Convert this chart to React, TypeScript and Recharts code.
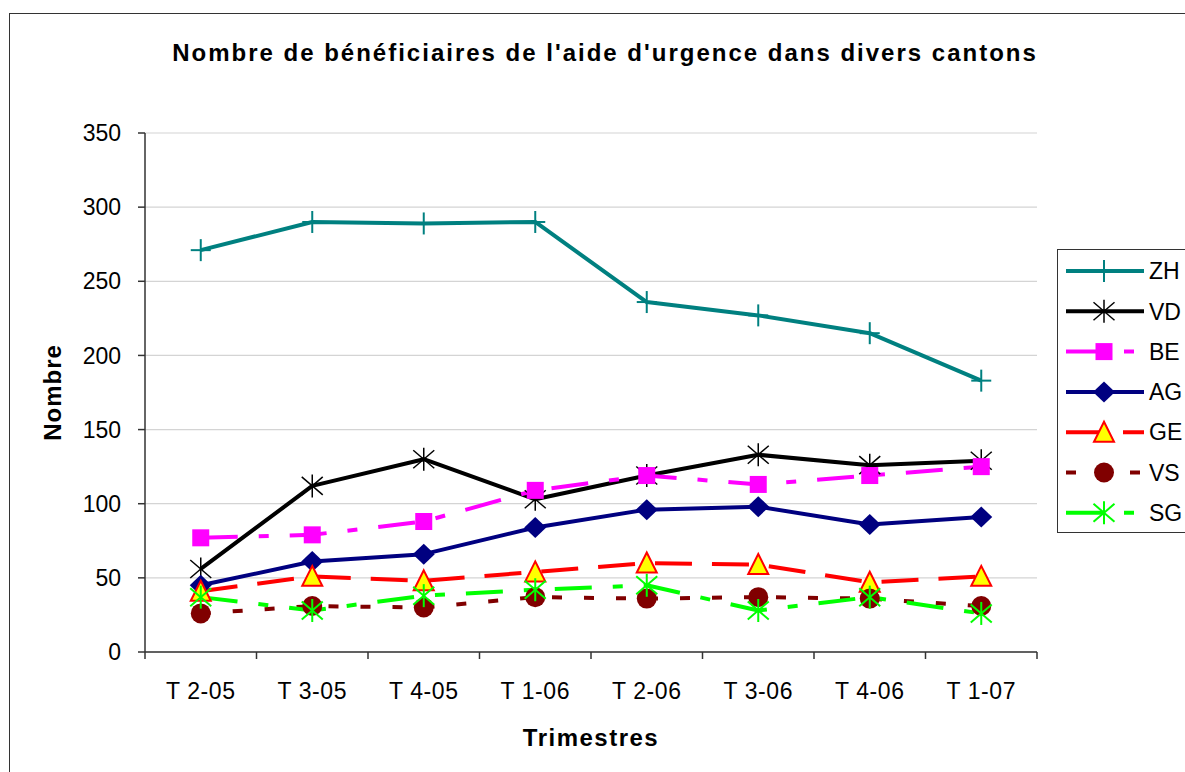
import React from "react";
import { LineChart, Line, XAxis, YAxis, CartesianGrid, Legend } from "recharts";

const QUARTERS = ["T 2-05", "T 3-05", "T 4-05", "T 1-06", "T 2-06", "T 3-06", "T 4-06", "T 1-07"];
const ZH = [271, 290, 289, 290, 236, 227, 215, 183];
const VD = [56, 112, 130, 103, 119, 133, 126, 129];
const BE = [77, 79, 88, 109, 119, 113, 119, 125];
const AG = [45, 61, 66, 84, 96, 98, 86, 91];
const GE = [41, 51, 48, 54, 60, 59, 47, 51];
const VS = [26, 31, 30, 37, 36, 37, 36, 31];
const SG = [37, 28, 38, 42, 45, 28, 37, 26];
const Y_TICKS = [0, 50, 100, 150, 200, 250, 300, 350];

const FONT = '"Liberation Sans", Arial, sans-serif';

// line look per canton (Excel style)
const SERIES = [
  { key: "ZH", values: ZH, color: "#008080", dash: undefined, marker: "plus" },
  { key: "VD", values: VD, color: "#000000", dash: undefined, marker: "star" },
  { key: "BE", values: BE, color: "#FF00FF", dash: "37 21 10 21", marker: "square" },
  { key: "AG", values: AG, color: "#000080", dash: undefined, marker: "diamond" },
  { key: "GE", values: GE, color: "#FF0000", dash: "37 20", marker: "triangle" },
  { key: "VS", values: VS, color: "#800000", dash: "10 22", marker: "circle" },
  { key: "SG", values: SG, color: "#00FF00", dash: "37 21 10 21", marker: "star" },
];

const data = QUARTERS.map((q, i) => {
  const row: Record<string, any> = { q };
  SERIES.forEach((s) => (row[s.key] = s.values[i]));
  return row;
});

function Marker({ kind, color, cx, cy }: { kind: string; color: string; cx: number; cy: number }) {
  switch (kind) {
    case "plus":
      return (
        <g stroke={color} strokeWidth={2}>
          <line x1={cx} y1={cy - 11} x2={cx} y2={cy + 11} />
          <line x1={cx - 10} y1={cy} x2={cx + 10} y2={cy} />
        </g>
      );
    case "star":
      return (
        <g stroke={color} strokeWidth={color === "#000000" ? 1.5 : 2}>
          <line x1={cx} y1={cy - 11.5} x2={cx} y2={cy + 11.5} />
          <line x1={cx - 10.5} y1={cy - 9} x2={cx + 10.5} y2={cy + 9} />
          <line x1={cx - 10.5} y1={cy + 9} x2={cx + 10.5} y2={cy - 9} />
        </g>
      );
    case "square":
      return <rect x={cx - 8.5} y={cy - 8.5} width={17} height={17} fill={color} />;
    case "diamond":
      return (
        <polygon
          points={`${cx},${cy - 10.5} ${cx + 11},${cy} ${cx},${cy + 10.5} ${cx - 11},${cy}`}
          fill={color}
        />
      );
    case "triangle":
      return (
        <polygon
          points={`${cx},${cy - 10.5} ${cx + 10},${cy + 9.5} ${cx - 10},${cy + 9.5}`}
          fill="#FFFF00"
          stroke={color}
          strokeWidth={2}
        />
      );
    case "circle":
      return <circle cx={cx} cy={cy} r={10} fill={color} />;
    default:
      return null;
  }
}

// category ticks sit between the quarters, like Excel
function XTick(props: any) {
  const { x, y, payload, index } = props;
  const half = payload && typeof payload.offset === "number" && payload.offset > 0 ? payload.offset : 55.75;
  const axisY = y - 31;
  return (
    <g>
      <line x1={x - half} x2={x - half} y1={axisY} y2={axisY + 7} stroke="#333" strokeWidth={1.5} />
      {index === QUARTERS.length - 1 && (
        <line x1={x + half} x2={x + half} y1={axisY} y2={axisY + 7} stroke="#333" strokeWidth={1.5} />
      )}
      <text x={x} y={y} dy="0.71em" textAnchor="middle" fontSize={23} fill="#000" letterSpacing={0.6}>
        {payload.value}
      </text>
    </g>
  );
}

function LegendBox(props: any) {
  const payload = [...(props.payload || [])].sort(
    (a: any, b: any) =>
      SERIES.findIndex((s) => s.key === a.dataKey) - SERIES.findIndex((s) => s.key === b.dataKey)
  );
  return (
    <div
      style={{
        position: "absolute",
        left: 0,
        top: 0,
        width: 200,
        height: 282,
        border: "1px solid #333",
        background: "#fff",
      }}
    >
      <svg width={200} height={282} style={{ display: "block" }}>
        {payload.map((p: any, i: number) => {
          const s = SERIES.find((d) => d.key === p.dataKey) || SERIES[i];
          const cy = 21 + i * 40.3;
          return (
            <g key={s.key}>
              <line
                x1={8}
                x2={86}
                y1={cy}
                y2={cy}
                stroke={s.color}
                strokeWidth={4}
                strokeDasharray={s.dash}
              />
              <Marker kind={s.marker} color={s.color} cx={46} cy={cy} />
              <text x={91} y={cy} dy="0.36em" fontSize={23} fill="#000">
                {p.value}
              </text>
            </g>
          );
        })}
      </svg>
    </div>
  );
}

export default function App() {
  return (
    <div
      style={{
        position: "fixed",
        left: 0,
        top: 0,
        width: 1185,
        height: 772,
        overflow: "hidden",
        background: "#fff",
        fontFamily: FONT,
      }}
    >
      <div style={{ position: "absolute", left: 8, top: 8, width: 1177, height: 764 }}>
        <div
          style={{
            position: "absolute",
            left: 1,
            top: 5,
            width: 1300,
            height: 900,
            borderLeft: "1px solid #333",
            borderTop: "1px solid #333",
          }}
        />
        <div
          style={{
            position: "absolute",
            left: 0,
            top: 33,
            width: 1194,
            textAlign: "center",
            fontSize: 24,
            fontWeight: "bold",
            letterSpacing: 2,
            lineHeight: 1,
            color: "#000",
            whiteSpace: "nowrap",
          }}
        >
          Nombre de bénéficiaires de l'aide d'urgence dans divers cantons
        </div>
        <div style={{ position: "absolute", left: 0, top: 0 }}>
          <LineChart width={1177} height={756} data={data} margin={{ top: 125, right: 148, bottom: 52, left: 0 }}>
            <CartesianGrid vertical={false} stroke="#d4d4d4" strokeWidth={1.2} />
            <XAxis
              dataKey="q"
              scale="band"
              height={60}
              tickSize={0}
              tickLine={false}
              tickMargin={31}
              axisLine={{ stroke: "#333", strokeWidth: 1.5 }}
              tick={<XTick />}
              interval={0}
              label={{
                value: "Trimestres",
                position: "bottom",
                offset: 17,
                style: { fontSize: 24, fontWeight: "bold", fill: "#000", letterSpacing: 1.5 },
              }}
            />
            <YAxis
              width={137}
              domain={[0, 350]}
              ticks={Y_TICKS}
              interval={0}
              tickSize={7}
              tickMargin={17}
              tickLine={{ stroke: "#333", strokeWidth: 1.5 }}
              axisLine={{ stroke: "#333", strokeWidth: 1.5 }}
              tick={{ fontSize: 23, fill: "#000" }}
              label={{
                value: "Nombre",
                angle: -90,
                position: "insideLeft",
                offset: 44,
                style: { textAnchor: "middle", fontSize: 24, fontWeight: "bold", fill: "#000", letterSpacing: 1 },
              }}
            />
            <YAxis
              yAxisId="r"
              orientation="right"
              width={0}
              domain={[0, 350]}
              tick={false}
              tickLine={false}
              axisLine={{ stroke: "#999", strokeWidth: 1.5 }}
            />
            <Legend
              verticalAlign="top"
              content={<LegendBox />}
              wrapperStyle={{ left: 1049, top: 241, width: 200, height: 0, margin: 0, padding: 0 }}
            />
            {SERIES.map((s) => (
              <Line
                key={s.key}
                dataKey={s.key}
                name={s.key}
                stroke={s.color}
                strokeWidth={4}
                strokeDasharray={s.dash}
                strokeLinejoin="round"
                isAnimationActive={false}
                activeDot={false}
                dot={(p: any) => (
                  <Marker key={`${s.key}-${p.index}`} kind={s.marker} color={s.color} cx={p.cx} cy={p.cy} />
                )}
              />
            ))}
          </LineChart>
        </div>
      </div>
    </div>
  );
}
